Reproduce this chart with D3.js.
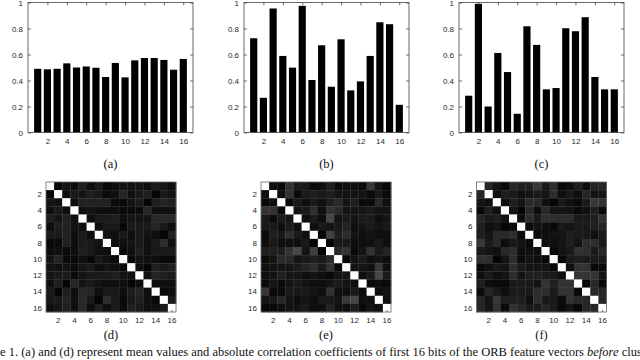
<!DOCTYPE html>
<html>
<head>
<meta charset="utf-8">
<script src="https://cdn.jsdelivr.net/npm/d3@7"></script>
<style>
  body { margin: 0; background: #fff; }
  svg { display: block; }
  .tick text { font-family: "Liberation Sans", Arial, sans-serif; font-size: 8px; fill: #2a2a2a; }
  .caption { font-family: "Liberation Serif", "Times New Roman", serif; fill: #111; }
</style>
</head>
<body>
<svg id="fig" width="640" height="360"></svg>
<script>

// mean value of the first 16 bits
var bits = d3.range(1, 17);
var meanA = [0.49, 0.486, 0.49, 0.532, 0.50, 0.508, 0.498, 0.427, 0.535, 0.424, 0.555, 0.573, 0.573, 0.558, 0.483, 0.566];
var meanB = [0.725, 0.267, 0.954, 0.589, 0.499, 0.974, 0.404, 0.671, 0.352, 0.717, 0.324, 0.393, 0.589, 0.848, 0.833, 0.213];
var meanC = [0.283, 0.99, 0.20, 0.612, 0.465, 0.144, 0.817, 0.674, 0.332, 0.342, 0.802, 0.779, 0.887, 0.427, 0.332, 0.332];

var yTicks = [0, 0.2, 0.4, 0.6, 0.8, 1];
var yTickLabels = ["0", "0.2", "0.4", "0.6", "0.8", "1"];
var xTicks = [2, 4, 6, 8, 10, 12, 14, 16];

// |correlation| upper triangles, row i holds columns i+1..16
var corrD = [
  [0.03,0.08,0.05,0.12,0.05,0.10,0.03,0.05,0.08,0.07,0.08,0.06,0.10,0.09,0.06],
  [0.06,0.10,0.08,0.12,0.10,0.04,0.06,0.14,0.06,0.10,0.12,0.02,0.10,0.08],
  [0.05,0.13,0.13,0.13,0.13,0.04,0.04,0.08,0.10,0.02,0.12,0.14,0.12],
  [0.06,0.08,0.06,0.06,0.06,0.04,0.04,0.04,0.15,0.06,0.06,0.06],
  [0.06,0.10,0.10,0.12,0.06,0.08,0.08,0.08,0.16,0.16,0.16],
  [0.06,0.10,0.10,0.03,0.10,0.10,0.10,0.14,0.10,0.06],
  [0.08,0.06,0.10,0.06,0.10,0.08,0.06,0.02,0.12],
  [0.06,0.06,0.08,0.10,0.06,0.10,0.18,0.06],
  [0.04,0.06,0.12,0.06,0.10,0.10,0.10],
  [0.04,0.08,0.06,0.06,0.04,0.04],
  [0.06,0.02,0.12,0.10,0.12],
  [0.06,0.15,0.12,0.10],
  [0.06,0.06,0.06],
  [0.04,0.06],
  [0.10]
];
var corrE = [
  [0.06,0.03,0.20,0.10,0.10,0.04,0.06,0.12,0.04,0.06,0.06,0.04,0.22,0.08,0.03],
  [0.06,0.20,0.04,0.10,0.12,0.10,0.12,0.08,0.08,0.08,0.08,0.04,0.10,0.04],
  [0.04,0.10,0.06,0.10,0.06,0.12,0.16,0.08,0.12,0.04,0.04,0.16,0.06],
  [0.08,0.10,0.18,0.06,0.20,0.16,0.08,0.08,0.08,0.10,0.08,0.08],
  [0.06,0.10,0.06,0.28,0.08,0.10,0.08,0.10,0.10,0.06,0.08],
  [0.06,0.10,0.08,0.10,0.14,0.06,0.08,0.10,0.08,0.10],
  [0.02,0.25,0.12,0.18,0.08,0.06,0.08,0.06,0.06],
  [0.02,0.10,0.10,0.06,0.06,0.06,0.10,0.06],
  [0.16,0.20,0.04,0.08,0.20,0.10,0.14],
  [0.03,0.08,0.10,0.06,0.08,0.06],
  [0.08,0.08,0.06,0.22,0.06],
  [0.06,0.10,0.28,0.10],
  [0.04,0.06,0.04],
  [0.06,0.08],
  [0.06]
];
var corrF = [
  [0.15,0.08,0.03,0.15,0.12,0.12,0.22,0.10,0.18,0.03,0.06,0.12,0.05,0.15,0.15],
  [0.06,0.12,0.10,0.06,0.08,0.10,0.08,0.18,0.06,0.10,0.06,0.15,0.08,0.08],
  [0.06,0.12,0.08,0.16,0.16,0.06,0.02,0.10,0.06,0.04,0.10,0.22,0.20],
  [0.08,0.02,0.16,0.05,0.16,0.08,0.08,0.08,0.04,0.06,0.12,0.04],
  [0.05,0.18,0.10,0.18,0.18,0.18,0.18,0.10,0.10,0.12,0.20],
  [0.04,0.08,0.06,0.04,0.10,0.08,0.10,0.10,0.12,0.15],
  [0.04,0.06,0.08,0.08,0.12,0.10,0.10,0.06,0.10],
  [0.06,0.06,0.08,0.12,0.08,0.18,0.18,0.10],
  [0.03,0.08,0.10,0.20,0.18,0.10,0.15],
  [0.03,0.10,0.12,0.10,0.10,0.10],
  [0.06,0.20,0.20,0.04,0.04],
  [0.20,0.20,0.20,0.08],
  [0.04,0.16,0.03],
  [0.15,0.15],
  [0.15]
];

var panelLabels = ["(a)", "(b)", "(c)", "(d)", "(e)", "(f)"];
var captionText = "Figure 1. (a) and (d) represent mean values and absolute correlation coefficients of first 16 bits of the ORB feature vectors ";
var captionItalic = "before";
var captionTail = " clustering.";

var svg = d3.select("#fig");

function styleAxis(g){
  g.select(".domain").remove();
  g.selectAll(".tick line").attr("stroke", "#333").attr("stroke-width", 0.7);
}

function drawBars(values, left, top, width, height, label){
  var g = svg.append("g").attr("transform", "translate(" + left + "," + top + ")");

  var x = d3.scaleLinear().domain([0, 17]).range([0, width]);
  var y = d3.scaleLinear().domain([0, 1]).range([height, 0]);

  g.selectAll("rect.bar")
    .data(values)
    .enter()
    .append("rect")
      .attr("class", "bar")
      .attr("x", function(d, i) { return x(i + 1 - 0.4) + 0.3; })
      .attr("y", function(d) { return y(d); })
      .attr("width", x(0.8) - x(0) - 0.6)
      .attr("height", function(d) { return height - y(d); })
      .attr("fill", "#000");

  g.append("g")
      .call(d3.axisLeft(y).tickValues(yTicks).tickSize(-3).tickPadding(5)
        .tickFormat(function(d, i) { return yTickLabels[i]; }))
      .call(styleAxis);

  g.append("g")
      .attr("transform", "translate(" + width + ",0)")
      .call(d3.axisRight(y).tickValues(yTicks).tickSize(-3).tickFormat(""))
      .call(styleAxis);

  g.append("g")
      .attr("transform", "translate(0," + height + ")")
      .call(d3.axisBottom(x).tickValues(xTicks).tickSize(-3).tickPadding(6))
      .call(styleAxis);

  g.append("g")
      .call(d3.axisTop(x).tickValues(xTicks).tickSize(-3).tickFormat(""))
      .call(styleAxis);

  g.append("rect")
    .attr("width", width)
    .attr("height", height)
    .attr("fill", "none")
    .attr("stroke", "#444")
    .attr("stroke-width", 0.8);

  svg.append("text")
    .attr("class", "caption")
    .attr("x", left + width / 2)
    .attr("y", 168)
    .attr("text-anchor", "middle")
    .attr("font-size", 12.5)
    .text(label);
}

function fullMatrix(upper){
  var cells = [];
  for (var i = 0 ; i < 16 ; i++){
    for (var j = 0 ; j < 16 ; j++){
      var v;
      if (i == j) v = 1;
      else if (j > i) v = upper[i][j - i - 1];
      else v = upper[j][i - j - 1];
      cells.push({row: i + 1, col: j + 1, value: v});
    }
  }
  return cells;
}

function drawMatrix(upper, left, top, size, label){
  var g = svg.append("g").attr("transform", "translate(" + left + "," + top + ")");

  var x = d3.scaleBand().domain(bits).range([0, size]);
  var y = d3.scaleBand().domain(bits).range([0, size]);
  var color = d3.scaleLinear().domain([0, 1]).range(["#000", "#fff"]);

  g.selectAll("rect.cell")
    .data(fullMatrix(upper))
    .enter()
    .append("rect")
      .attr("class", "cell")
      .attr("x", function(d) { return x(d.col); })
      .attr("y", function(d) { return y(d.row); })
      .attr("width", x.bandwidth() + 0.3)
      .attr("height", y.bandwidth() + 0.3)
      .attr("fill", function(d) { return color(d.value); });

  g.append("g")
      .call(d3.axisLeft(y).tickValues(xTicks).tickSize(0).tickPadding(4))
      .call(styleAxis);

  g.append("g")
      .attr("transform", "translate(0," + size + ")")
      .call(d3.axisBottom(x).tickValues(xTicks).tickSize(-2).tickPadding(5))
      .call(styleAxis);

  g.append("rect")
    .attr("width", size)
    .attr("height", size)
    .attr("fill", "none")
    .attr("stroke", "#666")
    .attr("stroke-width", 0.8);

  svg.append("text")
    .attr("class", "caption")
    .attr("x", left + size / 2)
    .attr("y", 339)
    .attr("text-anchor", "middle")
    .attr("font-size", 12.5)
    .text(label);
}

drawBars(meanA, 28, 2.5, 165, 130, panelLabels[0]);
drawBars(meanB, 244, 2.5, 165, 130, panelLabels[1]);
drawBars(meanC, 459, 2.5, 165, 130, panelLabels[2]);

drawMatrix(corrD, 46, 182, 130, panelLabels[3]);
drawMatrix(corrE, 261, 182, 130, panelLabels[4]);
drawMatrix(corrF, 476.5, 182, 130, panelLabels[5]);

// figure caption, cut at both page edges like the scan
var cap = svg.append("text")
  .attr("class", "caption")
  .attr("y", 356)
  .attr("font-size", 12.5);
cap.append("tspan").text(captionText);
cap.append("tspan").attr("font-style", "italic").text(captionItalic);
cap.append("tspan").text(captionTail);

var probe = svg.append("text").attr("class", "caption").attr("font-size", 12.5).text("Figur");
var cut = probe.node().getComputedTextLength();
probe.remove();
cap.attr("x", -cut);

</script>
</body>
</html>
